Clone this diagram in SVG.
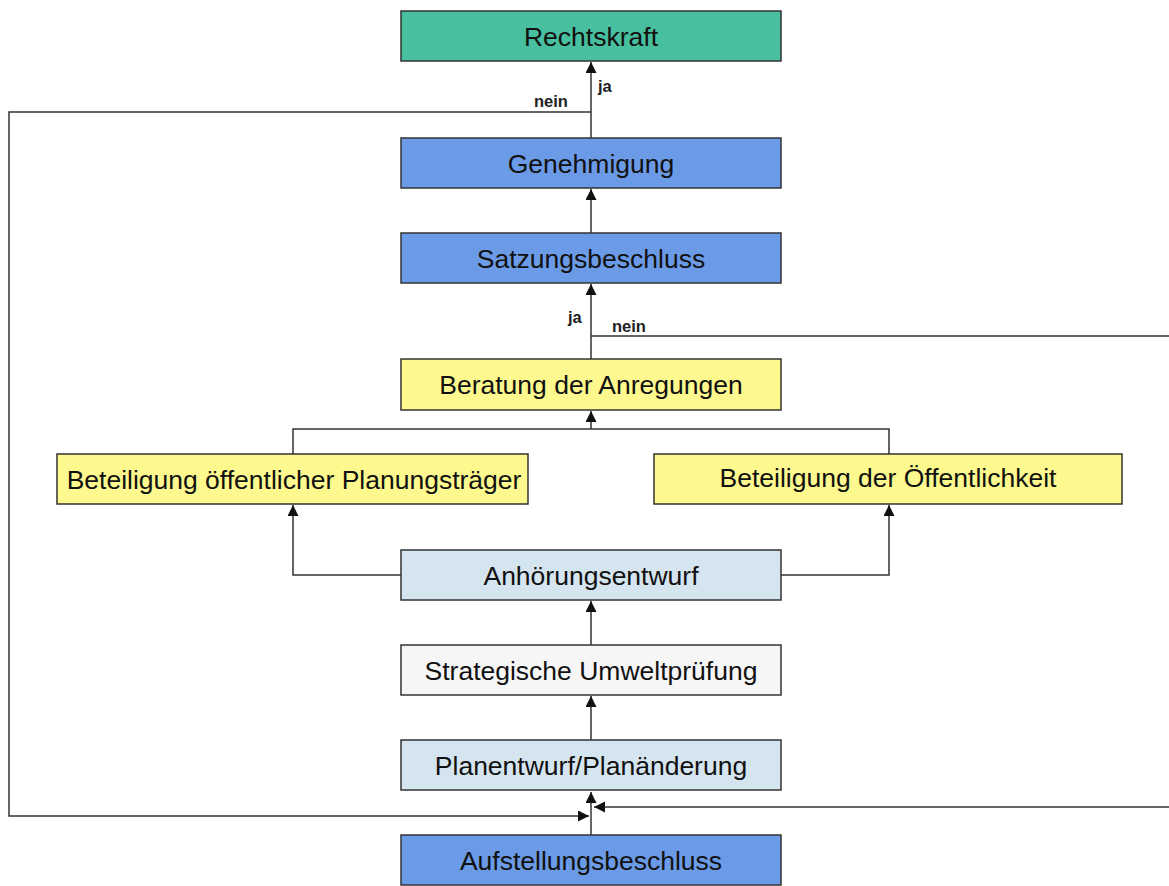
<svg xmlns="http://www.w3.org/2000/svg" width="1169" height="886" viewBox="0 0 1169 886">
<style>
.box{stroke:#333;stroke-width:1.5}
.green{fill:#48bf9e}
.blue{fill:#6b9be6}
.yellow{fill:#fdf98e}
.lblue{fill:#d5e5ef}
.white{fill:#f6f6f6}
.t{font-family:"Liberation Sans",Arial,sans-serif;font-size:26.5px;fill:#111;text-anchor:middle}
.lab{font-family:"Liberation Sans",Arial,sans-serif;font-size:16.5px;font-weight:bold;fill:#222}
.c{fill:none;stroke:#333;stroke-width:1.5}
</style>
<defs>
<marker id="ah" markerWidth="12" markerHeight="12" refX="11" refY="5.5" orient="auto" markerUnits="userSpaceOnUse">
<path d="M0,0 L11,5.5 L0,11 Z" fill="#111"/>
</marker>
</defs>
<rect width="1169" height="886" fill="#fff"/>
<g id="connectors">
<path class="c" d="M591,138 V62" marker-end="url(#ah)"/>
<path class="c" d="M591,112 H9 V816 H589" marker-end="url(#ah)"/>
<path class="c" d="M591,233 V189" marker-end="url(#ah)"/>
<path class="c" d="M591,359 V284" marker-end="url(#ah)"/>
<path class="c" d="M591,336 H1169"/>
<path class="c" d="M1169,807 H594" marker-end="url(#ah)"/>
<path class="c" d="M293,454 V429 H889 V454"/>
<path class="c" d="M591,429 V411" marker-end="url(#ah)"/>
<path class="c" d="M401,575 H293 V505" marker-end="url(#ah)"/>
<path class="c" d="M781,575 H889 V505" marker-end="url(#ah)"/>
<path class="c" d="M591,645 V601" marker-end="url(#ah)"/>
<path class="c" d="M591,740 V696" marker-end="url(#ah)"/>
<path class="c" d="M591,835 V792" marker-end="url(#ah)"/>
<text class="lab" x="598" y="92">ja</text>
<text class="lab" x="534" y="107">nein</text>
<text class="lab" x="568" y="323">ja</text>
<text class="lab" x="612" y="332">nein</text>
</g>
<g id="rechtskraft"><rect class="box green" x="401" y="11" width="380" height="50"/><text class="t" x="591" y="46">Rechtskraft</text></g>
<g id="genehmigung"><rect class="box blue" x="401" y="138" width="380" height="50"/><text class="t" x="591" y="173">Genehmigung</text></g>
<g id="satzungsbeschluss"><rect class="box blue" x="401" y="233" width="380" height="50"/><text class="t" x="591" y="268">Satzungsbeschluss</text></g>
<g id="beratung"><rect class="box yellow" x="401" y="359" width="380" height="51"/><text class="t" x="591" y="394">Beratung der Anregungen</text></g>
<g id="beteiligung-traeger"><rect class="box yellow" x="57" y="454" width="471" height="50"/><text class="t" x="294" y="489">Beteiligung öffentlicher Planungsträger</text></g>
<g id="beteiligung-oeffentlichkeit"><rect class="box yellow" x="654" y="454" width="468" height="50"/><text class="t" x="888" y="487">Beteiligung der Öffentlichkeit</text></g>
<g id="anhoerungsentwurf"><rect class="box lblue" x="401" y="550" width="380" height="50"/><text class="t" x="591" y="585">Anhörungsentwurf</text></g>
<g id="sup"><rect class="box white" x="401" y="645" width="380" height="50"/><text class="t" x="591" y="680">Strategische Umweltprüfung</text></g>
<g id="planentwurf"><rect class="box lblue" x="401" y="740" width="380" height="50"/><text class="t" x="591" y="775">Planentwurf/Planänderung</text></g>
<g id="aufstellungsbeschluss"><rect class="box blue" x="401" y="835" width="380" height="50"/><text class="t" x="591" y="870">Aufstellungsbeschluss</text></g>
</svg>
